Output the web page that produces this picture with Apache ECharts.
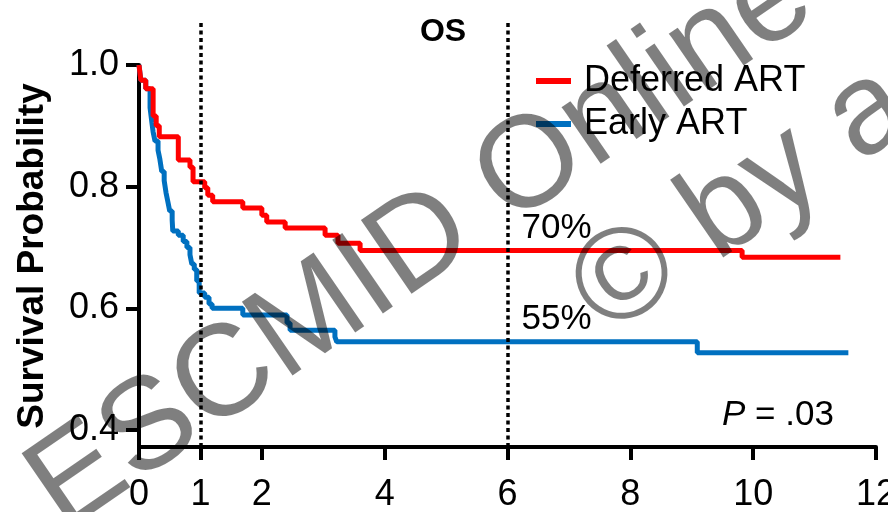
<!DOCTYPE html>
<html>
<head>
<meta charset="utf-8">
<script src="https://cdn.jsdelivr.net/npm/echarts@6/dist/echarts.min.js"></script>
<style>
  html, body { margin: 0; padding: 0; background: #fff; }
  #chart { width: 888px; height: 512px; }
</style>
</head>
<body>
<div id="chart"></div>
<script>
// Overall survival, Kaplan–Meier estimates (years vs probability after each event)
const seriesNames = ['Deferred ART', 'Early ART'];

const deferredTimes = [0, 0.03, 0.11, 0.23, 0.28, 0.33, 0.64, 0.83, 0.88, 1.07, 1.12, 1.20, 1.69, 2.00, 2.08, 2.38, 3.03, 3.24, 3.60, 9.82, 11.42];
const deferredSurv  = [1.0, 0.975, 0.961, 0.916, 0.900, 0.882, 0.844, 0.832, 0.808, 0.798, 0.786, 0.775, 0.765, 0.753, 0.742, 0.732, 0.720, 0.707, 0.695, 0.684, 0.684];

const earlyTimes = [0, 0.03, 0.11, 0.18, 0.21, 0.23, 0.26, 0.31, 0.34, 0.37, 0.41, 0.44, 0.47, 0.50, 0.54, 0.55, 0.64, 0.72, 0.78, 0.83, 0.86, 0.90, 0.94, 0.98, 1.07, 1.14, 1.19, 1.69, 2.41, 2.46, 3.19, 3.22, 9.09, 11.55];
const earlySurv  = [1.0, 0.975, 0.961, 0.930, 0.905, 0.890, 0.875, 0.860, 0.845, 0.825, 0.810, 0.790, 0.775, 0.760, 0.745, 0.727, 0.720, 0.710, 0.700, 0.688, 0.673, 0.664, 0.645, 0.625, 0.618, 0.607, 0.600, 0.589, 0.576, 0.564, 0.553, 0.545, 0.527, 0.527];

const xTicks = [0, 1, 2, 4, 6, 8, 10, 12];
const yTicks = [0.4, 0.6, 0.8, 1.0];
const landmarkYears = [1, 6];
const labelYear = 6;
const pValue = '.03';

const X_MAX = 12;
const Y_MIN = 0.372, Y_MAX = 1.0;
const W = 888, H = 512;
const GRID = { left: 139, right: 12, top: 65, bottom: 65 };

const FONT = '"Liberation Sans", Arial, Helvetica, sans-serif';

function pairs(t, s) { return t.map((v, i) => [v, s[i]]); }
function survivalAt(t, s, year) {
  let v = s[0];
  for (let i = 0; i < t.length; i++) { if (t[i] <= year) v = s[i]; }
  return v;
}
function pct(v) { return Math.round(v * 100) + '%'; }

const deferredAt = survivalAt(deferredTimes, deferredSurv, labelYear);
const earlyAt = survivalAt(earlyTimes, earlySurv, labelYear);

// Year scaffold for the tick/label axis (one slot per whole year)
const yearSlots = Array.from({ length: X_MAX + 1 }, (_, i) => String(i));
const showYear = idx => xTicks.indexOf(idx) >= 0;

// The labelled y ticks live on their own grid whose bottom sits at the lowest tick value
const plotH = H - GRID.top - GRID.bottom;
const lowestTickPx = GRID.top + (Y_MAX - yTicks[0]) / (Y_MAX - Y_MIN) * plotH;

const chart = echarts.init(document.getElementById('chart'), null, { renderer: 'canvas' });

const wmStyle = { fill: 'rgba(0,0,0,0.5)', font: '130px ' + FONT, verticalAlign: 'bottom', align: 'left' };
const wmAngle = 34.5 * Math.PI / 180;

const blackLine = { color: '#000', width: 4 };
const tickStyle = { show: true, length: 13, lineStyle: blackLine };

chart.setOption({
  animation: false,
  backgroundColor: '#fff',
  title: {
    text: 'OS', left: 438, top: 11, textAlign: 'center',
    textStyle: { fontSize: 32, fontWeight: 'bold', color: '#000', fontFamily: FONT }
  },
  legend: {
    orient: 'vertical', left: 531, top: 58, itemWidth: 35, itemHeight: 6, itemGap: 7,
    icon: 'rect', data: seriesNames,
    textStyle: { fontSize: 36, color: '#000', fontFamily: FONT, padding: [0, 0, 0, 8] }
  },
  grid: [
    Object.assign({ outerBoundsMode: 'none', containLabel: false }, GRID),
    Object.assign({ outerBoundsMode: 'none', containLabel: false }, GRID, { top: 20 }),
    Object.assign({ outerBoundsMode: 'none', containLabel: false }, GRID, { bottom: H - lowestTickPx })
  ],
  xAxis: [
    { // data axis: line only
      type: 'value', gridIndex: 0, min: 0, max: X_MAX, position: 'bottom',
      axisLine: { show: true, onZero: false, lineStyle: blackLine },
      axisTick: { show: false }, axisLabel: { show: false }, splitLine: { show: false }
    },
    { type: 'value', gridIndex: 1, min: 0, max: X_MAX, show: false },
    { // ticks and labels at the chosen years
      type: 'category', gridIndex: 0, data: yearSlots, boundaryGap: false, position: 'bottom',
      axisLine: { show: false },
      axisTick: Object.assign({ interval: showYear }, tickStyle),
      axisLabel: { show: true, interval: showYear, fontSize: 36, color: '#000', fontFamily: FONT, margin: 30 },
      splitLine: { show: false }
    },
    { type: 'value', gridIndex: 2, min: 0, max: X_MAX, show: false }
  ],
  yAxis: [
    { // data axis: line and title
      type: 'value', gridIndex: 0, min: Y_MIN, max: Y_MAX,
      name: 'Survival Probability', nameLocation: 'middle', nameRotate: 90, nameGap: 88,
      nameTextStyle: { fontSize: 37, fontWeight: 'bold', color: '#000', fontFamily: FONT },
      axisLine: { show: true, onZero: false, lineStyle: blackLine },
      axisTick: { show: false }, axisLabel: { show: false }, splitLine: { show: false }
    },
    { type: 'value', gridIndex: 1, min: 0, max: 1, show: false },
    { // ticks and labels every 0.2
      type: 'value', gridIndex: 2, min: yTicks[0], max: yTicks[yTicks.length - 1], interval: 0.2,
      axisLine: { show: false },
      axisTick: tickStyle,
      axisLabel: { show: true, fontSize: 36, color: '#000', fontFamily: FONT, margin: 20,
                   formatter: v => v.toFixed(1) },
      splitLine: { show: false }
    }
  ],
  series: [
    {
      name: seriesNames[1], type: 'line', step: 'end', xAxisIndex: 0, yAxisIndex: 0,
      data: pairs(earlyTimes, earlySurv), showSymbol: false, symbol: 'none',
      color: '#0070c0', lineStyle: { width: 5, color: '#0070c0' },
      markPoint: {
        symbol: 'circle', symbolSize: 0, silent: true,
        label: { show: true, position: 'right', offset: [9, -22], formatter: () => pct(earlyAt),
                 fontSize: 35, color: '#000', fontFamily: FONT },
        data: [{ coord: [labelYear, earlyAt] }]
      }
    },
    {
      name: seriesNames[0], type: 'line', step: 'end', xAxisIndex: 0, yAxisIndex: 0,
      data: pairs(deferredTimes, deferredSurv), showSymbol: false, symbol: 'none',
      color: '#ff0000', lineStyle: { width: 5, color: '#ff0000' },
      markPoint: {
        symbol: 'circle', symbolSize: 0, silent: true,
        label: { show: true, position: 'right', offset: [9, -22], formatter: () => pct(deferredAt),
                 fontSize: 35, color: '#000', fontFamily: FONT },
        data: [{ coord: [labelYear, deferredAt] }]
      }
    },
    {
      name: 'landmarks', type: 'line', xAxisIndex: 1, yAxisIndex: 1, data: [], silent: true,
      markLine: {
        silent: true, symbol: ['none', 'none'], label: { show: false },
        lineStyle: { color: '#000', width: 3.5, type: [4, 3.5] },
        emphasis: { disabled: true },
        data: landmarkYears.map(y => ({ xAxis: y }))
      }
    }
  ],
  graphic: [
    {
      type: 'text', x: 722, y: 415, z: 50,
      style: {
        text: '{i|P} = ' + pValue, verticalAlign: 'middle', fill: '#000',
        font: '35px ' + FONT,
        rich: { i: { fontStyle: 'italic', fontSize: 35, fontFamily: FONT, fill: '#000' } }
      }
    },
    { type: 'text', x: 80, y: 557, rotation: wmAngle, z: 100, silent: true,
      style: Object.assign({ text: 'ESCMID Online' }, wmStyle) },
    { type: 'text', x: 624, y: 361, rotation: wmAngle, z: 100, silent: true,
      style: Object.assign({ text: '\u00A9 by a' }, wmStyle) }
  ]
});
</script>
</body>
</html>
